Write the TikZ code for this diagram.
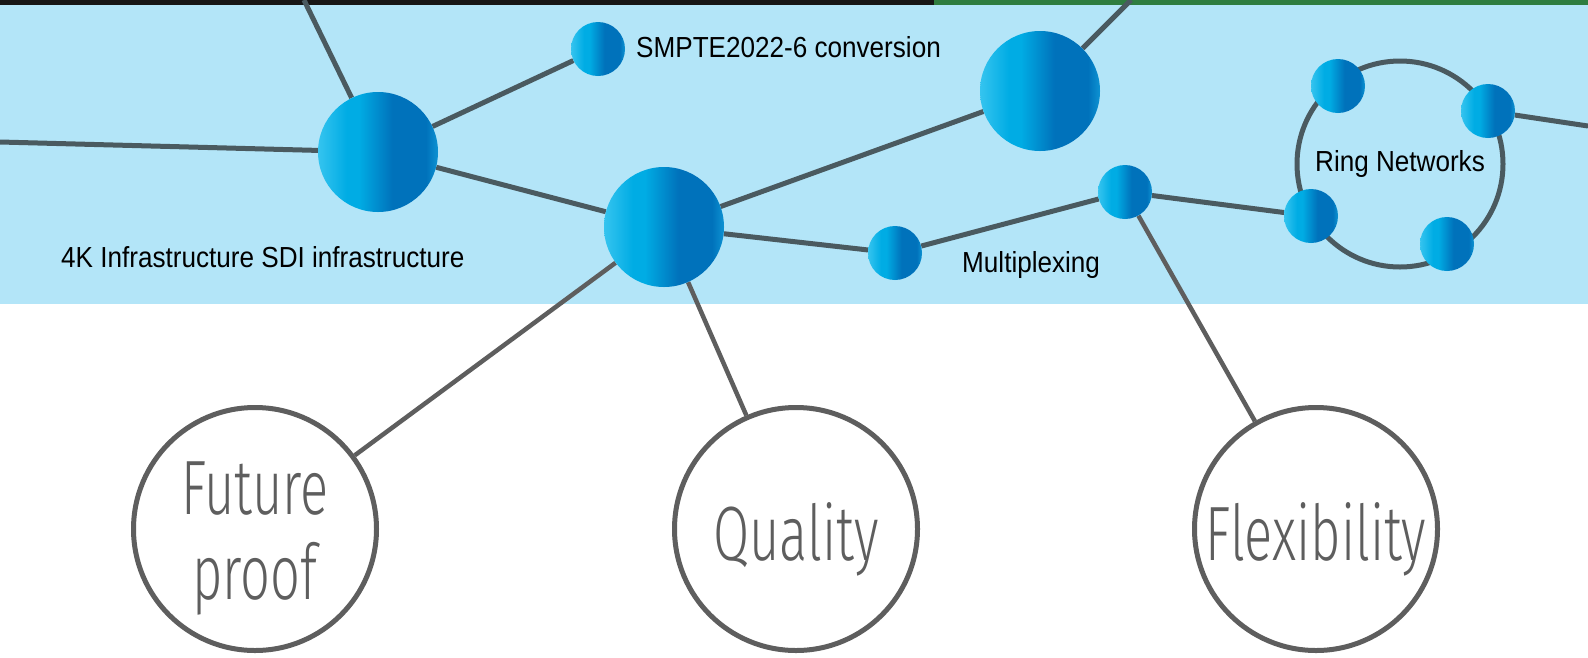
\documentclass[tikz,border=0pt]{standalone}
\usepackage{fontspec}
\usetikzlibrary{backgrounds}
\newfontfamily\labelfont[FakeStretch=0.9]{Liberation Sans}
\IfFontExistsTF{Fira Sans Light}
  {\newfontfamily\thinfont[FakeStretch=0.68]{Fira Sans Light}}
  {\IfFontExistsTF{Lato Light}
    {\newfontfamily\thinfont[FakeStretch=0.68]{Lato Light}}
    {\newfontfamily\thinfont[FakeStretch=0.62]{Liberation Sans}}}

\definecolor{bandblue}{HTML}{B3E5F8}
\definecolor{linkgray}{HTML}{4A5A60}
\definecolor{spokegray}{HTML}{5E5E5E}
\definecolor{ballA}{HTML}{35C4EF}
\definecolor{ballB}{HTML}{00ACE4}
\definecolor{ballC}{HTML}{0072BB}
\definecolor{ballD}{HTML}{0D93D3}
\definecolor{stripdark}{HTML}{161616}
\definecolor{stripgreen}{HTML}{2F7D40}

\pgfdeclarehorizontalshading{ballshade}{100bp}{color(0bp)=(ballA); color(25bp)=(ballA); color(37bp)=(ballB); color(42bp)=(ballB); color(56bp)=(ballC); color(70bp)=(ballC); color(75bp)=(ballD); color(100bp)=(ballD)}

\tikzset{
  ball/.style={circle, inner sep=0pt, shade, shading=ballshade},
  bigball/.style={ball, minimum size=120pt},
  smallball/.style={ball, minimum size=54pt},
  link/.style={draw=linkgray, line width=5pt},
  spoke/.style={draw=spokegray, line width=4.5pt},
  keyword/.style={circle, draw=spokegray, line width=5pt, fill=white, minimum size=243pt, inner sep=0pt},
  keytext/.style={inner sep=0pt, align=center, text=spokegray, yshift=-10pt, font=\thinfont\fontsize{77}{85}\selectfont},
  caption/.style={inner sep=0pt, font=\labelfont\fontsize{29}{34}\selectfont},
  ringline/.style={circle, draw=linkgray, line width=5pt, minimum size=206pt, inner sep=0pt}
}

\begin{document}
\begin{tikzpicture}[x=1pt, y=-1pt]
			%%%%% START %%%%%
			\useasboundingbox (0,0) rectangle (1588,657);
			
			% network balls
			\node[bigball] (core) at (378,152) {};
			\node[bigball] (hub) at (664,227) {};
			\node[bigball] (upper) at (1040,91) {};
			\node[smallball] (smpte) at (598,49) {};
			\node[smallball] (mux) at (895,253) {};
			\node[smallball] (junction) at (1125,192) {};
			
			\node[ringline, caption] (ring) at (1400,164) {Ring Networks};
			\node[smallball] (ringnw) at (1338,86) {};
			\node[smallball] (ringne) at (1488,111) {};
			\node[smallball] (ringsw) at (1311,216) {};
			\node[smallball] (ringse) at (1447,244) {};
			
			\coordinate (topleft) at (304,0);
			\coordinate (topright) at (1131,0);
			\coordinate (leftedge) at (0,142);
			\coordinate (rightedge) at (1588,126);
			
			% labels
			\node[caption, anchor=base west] (smptetext) at (636,57) {SMPTE2022-6 conversion};
			\node[caption, anchor=base west] (infratext) at (61,267) {4K Infrastructure SDI infrastructure};
			\node[caption, anchor=base west] (muxtext) at (962,272) {Multiplexing};
			
			% keywords
			\node[keyword, label={[keytext]center:Future\\proof}] (future) at (255,529) {};
			\node[keyword, label={[keytext]center:Quality}] (quality) at (796,529) {};
			\node[keyword, label={[keytext]center:Flexibility}] (flexibility) at (1316,529) {};
			
			\begin{scope}[on background layer]
			\fill[bandblue] (0,0) rectangle (1588,304);
			\fill[stripdark] (0,0) rectangle (934,5);
			\fill[stripgreen] (934,0) rectangle (1588,5);
			
			\draw[link] (topleft) -- (core);
			\draw[link] (leftedge) -- (core);
			\draw[link] (core) -- (smpte);
			\draw[link] (core) -- (hub);
			\draw[link] (hub) -- (upper);
			\draw[link] (upper) -- (topright);
			\draw[link] (hub) -- (mux);
			\draw[link] (mux) -- (junction);
			\draw[link] (junction) -- (ringsw);
			\draw[link] (ringne) -- (rightedge);
			
			\draw[spoke] (hub) -- (future);
			\draw[spoke] (hub) -- (quality);
			\draw[spoke] (junction) -- (flexibility);
			\end{scope}
			%%%%% END %%%%%
\end{tikzpicture}
\end{document}
